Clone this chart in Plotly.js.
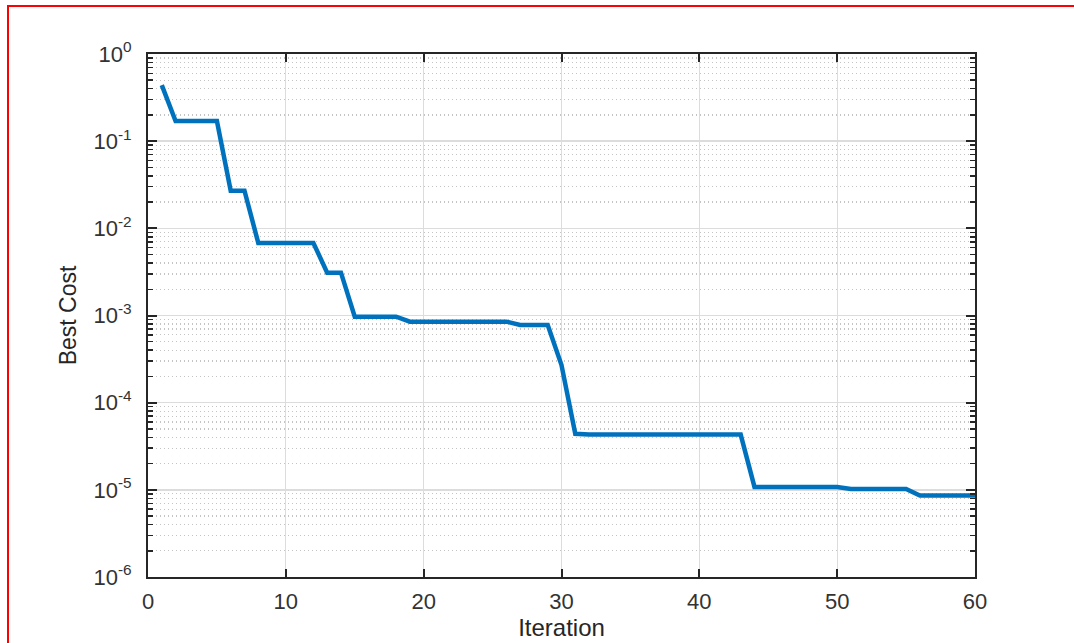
<!DOCTYPE html>
<html>
<head>
<meta charset="utf-8">
<script src="https://cdn.plot.ly/plotly-3.0.1.min.js"></script>
<style>
  html, body { margin: 0; padding: 0; background: #fff; }
  #wrap { position: relative; width: 1074px; height: 643px; overflow: hidden; }
  #chart { position: absolute; left: 0; top: 0; width: 1074px; height: 643px; }
  #frame { position: absolute; left: 7px; top: 5px; width: 1100px; height: 700px;
           border-top: 2px solid #ff0000; border-left: 2px solid #ff0000; pointer-events: none; }
</style>
</head>
<body>
<div id="wrap">
  <div id="chart"></div>
  <div id="frame"></div>
</div>
<script>
// Data
const iterations = [1,2,3,4,5,6,7,8,9,10,11,12,13,14,15,16,17,18,19,20,
                    21,22,23,24,25,26,27,28,29,30,31,32,33,34,35,36,37,38,39,40,
                    41,42,43,44,45,46,47,48,49,50,51,52,53,54,55,56,57,58,59,60];
const bestCost = [0.44, 0.17, 0.17, 0.17, 0.17, 0.027, 0.027, 0.0068, 0.0068, 0.0068,
                  0.0068, 0.0068, 0.0031, 0.0031, 0.00097, 0.00097, 0.00097, 0.00097, 0.00085, 0.00085,
                  0.00085, 0.00085, 0.00085, 0.00085, 0.00085, 0.00085, 0.00078, 0.00078, 0.00078, 0.00027,
                  4.4e-5, 4.3e-5, 4.3e-5, 4.3e-5, 4.3e-5, 4.3e-5, 4.3e-5, 4.3e-5, 4.3e-5, 4.3e-5,
                  4.3e-5, 4.3e-5, 4.3e-5, 1.08e-5, 1.08e-5, 1.08e-5, 1.08e-5, 1.08e-5, 1.08e-5, 1.08e-5,
                  1.02e-5, 1.02e-5, 1.02e-5, 1.02e-5, 1.02e-5, 8.6e-6, 8.6e-6, 8.6e-6, 8.6e-6, 8.6e-6];
const yTickVals = [1e-6, 1e-5, 1e-4, 1e-3, 1e-2, 1e-1, 1];
const yTickText = ['10<sup>-6</sup>', '10<sup>-5</sup>', '10<sup>-4</sup>', '10<sup>-3</sup>',
                   '10<sup>-2</sup>', '10<sup>-1</sup>', '10<sup>0</sup>'];
const xTickVals = [0, 10, 20, 30, 40, 50, 60];
const xLabel = 'Iteration';
const yLabel = 'Best Cost';

// minor tick positions for log axis (2..9 in each decade)
const minorVals = [];
for (let e = -6; e < 0; e++) {
  for (let m = 2; m <= 9; m++) minorVals.push(m * Math.pow(10, e));
}

const textColor = '#262626';
const axisColor = '#262626';

const trace = {
  x: iterations,
  y: bestCost,
  type: 'scatter',
  mode: 'lines',
  line: { color: '#0072BD', width: 4.5, shape: 'linear' },
  hoverinfo: 'x+y'
};

const layout = {
  width: 1074,
  height: 643,
  margin: { l: 148, r: 99, t: 54, b: 66, pad: 0 },
  paper_bgcolor: '#ffffff',
  plot_bgcolor: '#ffffff',
  showlegend: false,
  font: { family: '"Liberation Sans", Arial, Helvetica, sans-serif', color: textColor },
  xaxis: {
    range: [0, 60],
    tickvals: xTickVals,
    ticks: 'inside',
    ticklen: 8,
    tickwidth: 2,
    tickcolor: axisColor,
    showline: true,
    linecolor: axisColor,
    linewidth: 2,
    mirror: 'ticks',
    showgrid: true,
    gridcolor: '#dcdcdc',
    gridwidth: 1,
    zeroline: false,
    tickfont: { size: 22, color: '#333333' },
    ticklabelstandoff: 4,
    title: { text: xLabel, font: { size: 24, color: textColor }, standoff: 6 },
    automargin: false
  },
  yaxis: {
    type: 'log',
    range: [-6, 0],
    tickvals: yTickVals,
    ticktext: yTickText,
    ticks: 'inside',
    ticklen: 9,
    tickwidth: 2,
    tickcolor: axisColor,
    showline: true,
    linecolor: axisColor,
    linewidth: 2,
    mirror: 'ticks',
    showgrid: true,
    gridcolor: '#dcdcdc',
    gridwidth: 1.5,
    zeroline: false,
    tickfont: { size: 22, color: '#333333' },
    ticklabelstandoff: 10,
    minor: {
      tickvals: minorVals,
      ticks: 'inside',
      ticklen: 5,
      tickwidth: 1.5,
      tickcolor: axisColor,
      showgrid: true,
      gridcolor: '#c4c4c4',
      griddash: '1px,3px',
      gridwidth: 1.2
    },
    title: { text: yLabel, font: { size: 23, color: textColor }, standoff: 10 },
    automargin: false
  }
};

Plotly.newPlot('chart', [trace], layout, { displayModeBar: false, staticPlot: true });
</script>
</body>
</html>
